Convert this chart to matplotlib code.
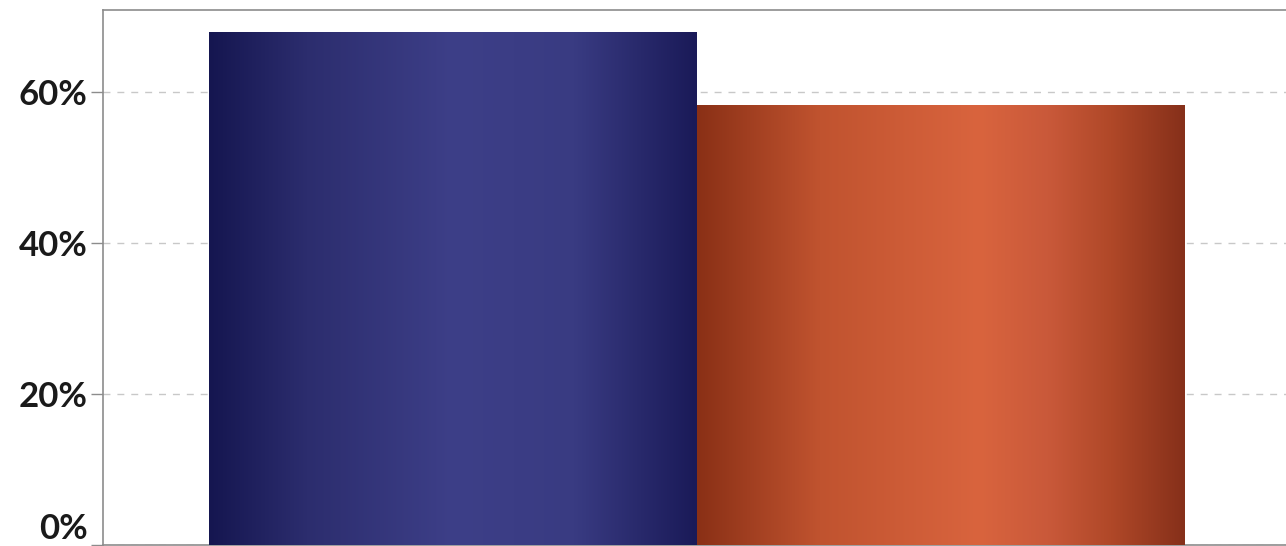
import numpy as np
import matplotlib
matplotlib.use("Agg")
import matplotlib.pyplot as plt
from matplotlib.colors import LinearSegmentedColormap
from matplotlib.ticker import FuncFormatter

# data
series_names = ["A", "B"]
values = [68.0, 58.3]
yticks = [0, 20, 40, 60]

# gradient stops per bar (edge -> light -> edge)
grad_colors = [
    ["#151650", "#2c2d6e", "#3d3f88", "#393b82", "#1a1a58"],
    ["#8a3016", "#c0532f", "#d9643e", "#c9593a", "#b04828", "#86301a"],
]
grad_pos = [
    [0.0, 0.2, 0.5, 0.75, 1.0],
    [0.0, 0.25, 0.58, 0.72, 0.85, 1.0],
]

plt.rcParams['font.family'] = ['Lato', 'DejaVu Sans']

fig = plt.figure(figsize=(12.86, 5.46), dpi=100)
ax = fig.add_axes([0.080, 0.002, 0.921, 0.980])

width = 0.5
xs = [-0.25, 0.25]
ax.set_xlim(-0.609, 0.605)
ax.set_ylim(0, 70.9)

bars = ax.bar(xs, values, width=width, color="none", edgecolor="none", zorder=3)
for bar, cols, pos in zip(bars, grad_colors, grad_pos):
    cmap = LinearSegmentedColormap.from_list("g", list(zip(pos, cols)))
    x0 = bar.get_x()
    x1 = x0 + bar.get_width()
    h = bar.get_height()
    grad = np.linspace(0, 1, 256).reshape(1, -1)
    im = ax.imshow(grad, cmap=cmap, aspect="auto", extent=[x0, x1, 0, h],
                   zorder=3, interpolation="bicubic")
    im.set_clip_path(bar)

ax.set_yticks(yticks)
ax.yaxis.set_major_formatter(FuncFormatter(lambda v, p: "%d%%" % v))
ax.set_xticks([])
ax.grid(axis="y", color="#c8c8c8", linestyle=(0, (5, 5)), linewidth=1.0, zorder=0)
ax.tick_params(axis="y", length=9, width=1, color="#8c8c8c", labelsize=25,
               labelcolor="#1a1a1a", pad=2)
fig.canvas.draw()
for lbl in ax.get_yticklabels():
    lbl.set_fontweight("bold")
    if lbl.get_text() == "0%":
        lbl.set_verticalalignment("bottom")
for s in ax.spines.values():
    s.set_color("#8c8c8c")
    s.set_linewidth(1.2)

fig.savefig("out.png", dpi=100)
